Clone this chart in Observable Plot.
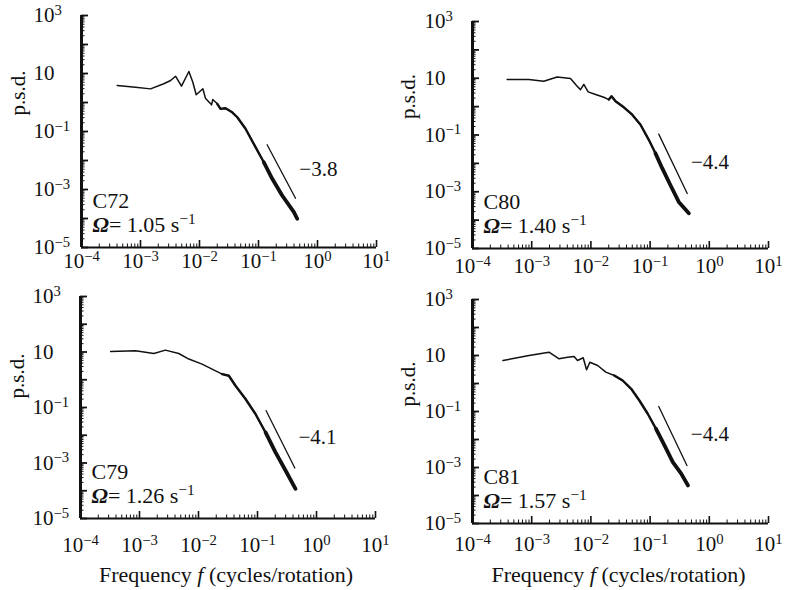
<!DOCTYPE html>
<html><head><meta charset="utf-8">
<script src="https://cdn.jsdelivr.net/npm/d3@7"></script>
<script src="https://cdn.jsdelivr.net/npm/@observablehq/plot@0.6"></script>
<style>
body{margin:0;background:#fff;}
#wrap{position:relative;width:786px;height:590px;background:#fff;overflow:hidden;font-family:"Liberation Serif","DejaVu Serif",serif;}
.panel{position:absolute;}
</style></head><body><div id="wrap"></div>
<script>
// ---- data ----
const runs = ["C72", "C80", "C79", "C81"];
const omegas = ["1.05", "1.40", "1.26", "1.57"];
const slopeLabels = ["\u22123.8", "\u22124.4", "\u22124.1", "\u22124.4"];

const c72F = [4.03e-4, 8.2e-4, 1.48e-3, 2.48e-3, 3.24e-3, 3.92e-3, 4.95e-3, 6.61e-3, 7.71e-3, 8.79e-3, 1.14e-2, 1.26e-2, 1.60e-2, 1.68e-2, 2.0e-2, 2.27e-2, 2.76e-2, 3.58e-2, 4.37e-2, 6.03e-2, 8.91e-2, 0.123, 0.171, 0.252, 0.398, 0.453];
const c72P = [3.85, 3.37, 2.95, 4.42, 5.75, 8.07, 3.65, 11.7, 5.0, 1.85, 2.97, 1.41, 0.83, 1.27, 0.90, 0.605, 0.635, 0.46, 0.31, 0.124, 0.0288, 0.0087, 0.00234, 0.00062, 0.000166, 0.000098];

const c80F = [3.85e-4, 8.93e-4, 1.6e-3, 2.69e-3, 4.52e-3, 5.86e-3, 6.67e-3, 7.59e-3, 8.99e-3, 1.2e-2, 1.65e-2, 2.01e-2, 2.23e-2, 2.61e-2, 3.6e-2, 4.99e-2, 6.89e-2, 9.51e-2, 0.123, 0.16, 0.221, 0.305, 0.451];
const c80P = [9.06, 9.06, 7.89, 11.0, 9.84, 5.25, 3.98, 6.03, 3.31, 2.67, 2.14, 1.77, 2.32, 1.54, 0.944, 0.52, 0.23, 0.0676, 0.0229, 0.00676, 0.0017, 0.000437, 0.000175];

const c79F = [3.24e-4, 8.55e-4, 1.75e-3, 2.75e-3, 4.63e-3, 6.86e-3, 1.15e-2, 1.7e-2, 2.52e-2, 3.27e-2, 4.24e-2, 6.27e-2, 9.25e-2, 0.137, 0.202, 0.299, 0.441];
const c79P = [10.4, 11.0, 8.83, 11.7, 8.83, 5.56, 3.67, 2.43, 1.6, 1.39, 0.608, 0.202, 0.0582, 0.0126, 0.0024, 0.000537, 0.000117];

const c81F = [3.27e-4, 9.0e-4, 1.96e-3, 2.9e-3, 4.03e-3, 5.21e-3, 5.94e-3, 7.41e-3, 8.45e-3, 9.61e-3, 1.3e-2, 1.79e-2, 2.48e-2, 3.44e-2, 4.79e-2, 6.59e-2, 9.12e-2, 0.126, 0.175, 0.242, 0.335, 0.437];
const c81P = [6.62, 10.0, 13.1, 7.62, 8.71, 9.2, 6.62, 8.28, 3.09, 5.75, 4.4, 2.54, 1.93, 1.28, 0.646, 0.247, 0.0832, 0.024, 0.00617, 0.00155, 0.000603, 0.000229];

// reference slope lines (start/end)
const refF1 = [0.14, 0.14, 0.14, 0.14];
const refP1 = [0.0348, 0.1076, 0.0767, 0.151];
const refF2 = [0.424, 0.424, 0.429, 0.419];
const refP2 = [5.0e-4, 8.7e-4, 6.6e-4, 1.17e-3];

const xDomain = [1e-4, 10];
const yDomain = [1e-5, 1e3];
const xTickValues = [1e-4, 1e-3, 1e-2, 1e-1, 1, 10];
const xTickLabels = ["10\u207B\u2074", "10\u207B\u00B3", "10\u207B\u00B2", "10\u207B\u00B9", "10\u2070", "10\u00B9"];
const yTickValues = [1e3, 10, 1e-1, 1e-3, 1e-5];
const yTickLabels = ["10\u00B3", "10", "10\u207B\u00B9", "10\u207B\u00B3", "10\u207B\u2075"];
const xLabelParts = ["Frequency ", "f", " (cycles/rotation)"];
const yLabel = "p.s.d.";

const seriesF = [c72F, c80F, c79F, c81F];
const seriesP = [c72P, c80P, c79P, c81P];

// ---- layout ----
const layouts = [
  {left: 0,   top: 0,   width: 390, height: 280, mt: 15, mr: 14, mb: 33, ml: 81, pad: 6,  ylDx: -63, ylDy: -16, xTitle: false},
  {left: 390, top: 0,   width: 396, height: 280, mt: 21, mr: 18, mb: 32, ml: 82, pad: 10, ylDx: -64, ylDy: -16, xTitle: false},
  {left: 0,   top: 280, width: 390, height: 310, mt: 16, mr: 15, mb: 72, ml: 80, pad: 19, ylDx: -63, ylDy: -9,  xTitle: true},
  {left: 390, top: 280, width: 396, height: 310, mt: 19, mr: 18, mb: 67, ml: 82, pad: 13, ylDx: -64, ylDy: -5,  xTitle: true}
];

const decadesX = d3.range(-4, 1);
const decadesY = d3.range(-5, 3);
const xMinor = decadesX.flatMap(e => d3.range(2, 10).map(k => k * Math.pow(10, e)));
const yMinor = decadesY.flatMap(e => d3.range(2, 10).map(k => k * Math.pow(10, e)));
const yMajor = d3.range(-5, 4).map(e => Math.pow(10, e));

const supChars = {"\u207B": "\u2212", "\u2070": "0", "\u00B9": "1", "\u00B2": "2", "\u00B3": "3", "\u2074": "4", "\u2075": "5"};
function splitSup(s) {
  let i = 0;
  while (i < s.length && !(s[i] in supChars)) i++;
  return [s.slice(0, i), Array.from(s.slice(i)).map(c => supChars[c] || c).join("")];
}
function supHTML(s) {
  const [base, sup] = splitSup(s);
  return sup ? base + '<tspan dy="-0.5em" font-size="0.7em">' + sup + '</tspan>' : base;
}

const wrap = document.getElementById("wrap");
const xLabelText = xLabelParts.join("");

layouts.forEach((L, i) => {
  const data = seriesF[i].map((f, j) => ({f, p: seriesP[i][j]}));
  const innerW = L.width - L.ml - L.mr;
  const innerH = L.height - L.mt - L.mb;
  const ref = [{f: refF1[i], p: refP1[i]}, {f: refF2[i], p: refP2[i]}];
  const refMid = [{f: Math.sqrt(refF1[i] * refF2[i]), p: Math.sqrt(refP1[i] * refP2[i]), t: slopeLabels[i]}];
  const ink = "#111";
  const marks = [
    Plot.tickX(xMinor, {x: d => d, insetTop: innerH - 3.5, stroke: ink, strokeWidth: 1}),
    Plot.tickX(xTickValues, {x: d => d, insetTop: innerH - 7, stroke: ink, strokeWidth: 1.6}),
    Plot.tickY(yMinor, {y: d => d, insetRight: innerW - 3.5, stroke: ink, strokeWidth: 1}),
    Plot.tickY(yMajor, {y: d => d, insetRight: innerW - 7, stroke: ink, strokeWidth: 1.8}),
    Plot.ruleX([xDomain[0]], {stroke: ink, strokeWidth: 3}),
    Plot.ruleY([yDomain[0]], {stroke: ink, strokeWidth: 2}),
    Plot.axisX({ticks: xTickValues, tickFormat: d => xTickLabels[xTickValues.indexOf(d)], tickSize: 0, tickPadding: L.pad, fontSize: 21, label: null, fill: ink}),
    Plot.axisY({ticks: yTickValues, tickFormat: d => yTickLabels[yTickValues.indexOf(d)], tickSize: 0, tickPadding: 48, textAnchor: "start", fontSize: 21, label: null, fill: ink}),
    Plot.text([yLabel], {text: d => d, frameAnchor: "left", rotate: -90, dx: L.ylDx, dy: L.ylDy, fontSize: 21, fill: ink}),
    Plot.line(data, {x: "f", y: "p", stroke: ink, strokeWidth: 1.5, strokeLinejoin: "round"}),
    Plot.line(data, {x: "f", y: "p", filter: d => d.f >= 0.019, stroke: ink, strokeWidth: 2.4, strokeLinejoin: "round"}),
    Plot.line(data, {x: "f", y: "p", filter: d => d.f >= 0.11, stroke: ink, strokeWidth: 3.8, strokeLinejoin: "round", strokeLinecap: "round"}),
    Plot.line(ref, {x: "f", y: "p", stroke: ink, strokeWidth: 1.3}),
    Plot.text(refMid, {x: "f", y: "p", text: "t", textAnchor: "start", dx: 18, dy: -2, fontSize: 21, fill: ink}),
    Plot.text([runs[i]], {text: d => d, frameAnchor: "bottom-left", textAnchor: "start", dx: 11, dy: -40, fontSize: 22, fill: ink}),
    Plot.text(["\u03A9= " + omegas[i] + " s\u207B\u00B9"], {text: d => d, frameAnchor: "bottom-left", textAnchor: "start", dx: 11, dy: -16, fontSize: 22, fill: ink})
  ];
  if (L.xTitle) {
    marks.push(Plot.text([xLabelText], {text: d => d, frameAnchor: "bottom", dx: -2, dy: L.mb - 9, fontSize: 22, fill: ink}));
  }
  const svg = Plot.plot({
    width: L.width, height: L.height,
    marginTop: L.mt, marginRight: L.mr, marginBottom: L.mb, marginLeft: L.ml,
    x: {type: "log", domain: xDomain},
    y: {type: "log", domain: yDomain},
    style: {fontFamily: "'Liberation Serif','DejaVu Serif',serif", background: "transparent", overflow: "visible"},
    marks
  });
  svg.querySelectorAll("text").forEach(t => {
    const s = t.textContent;
    if (s === xLabelText) {
      t.innerHTML = xLabelParts[0] + '<tspan font-style="italic">' + xLabelParts[1] + '</tspan>' + xLabelParts[2];
    } else if (s.startsWith("\u03A9")) {
      t.innerHTML = '<tspan font-style="italic" font-weight="bold">\u03A9</tspan>' + supHTML(s.slice(1));
    } else if (s.startsWith("10")) {
      t.innerHTML = supHTML(s);
    }
  });
  const div = document.createElement("div");
  div.className = "panel";
  div.style.left = L.left + "px";
  div.style.top = L.top + "px";
  div.appendChild(svg);
  wrap.appendChild(div);
});
</script>
</body></html>
